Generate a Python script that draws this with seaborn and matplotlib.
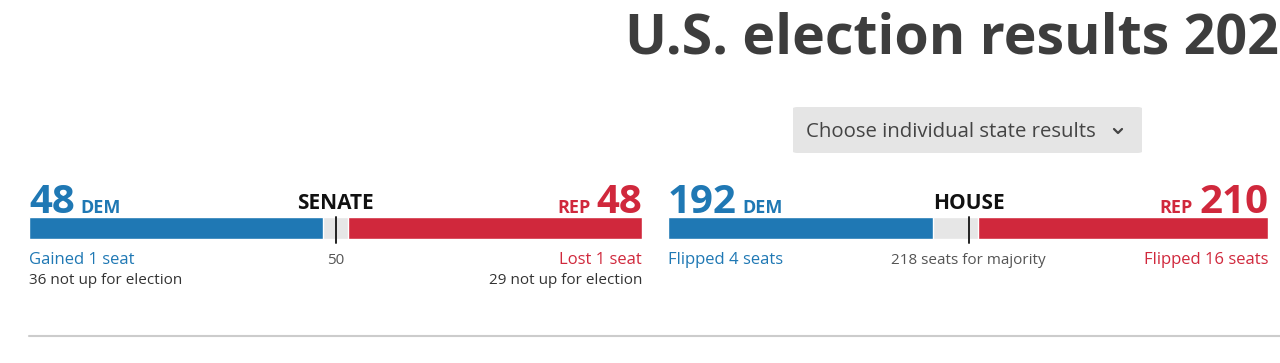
"""
Senate / House seat tally bars, 2022 U.S. midterms.

Output:
    out.png
"""

import matplotlib.pyplot as plt
import pandas as pd
import seaborn as sns
from matplotlib.patches import FancyBboxPatch
from matplotlib.transforms import blended_transform_factory


W, H = 1280, 363

BLUE = "#1f78b4"
RED = "#d0283c"
GREY_BAR = "#e6e6e6"
DARK = "#3d3d3d"
TEXT = "#333333"

chambers = ["SENATE", "HOUSE"]
total_seats = [100, 435]
dem_seats = [48, 192]
rep_seats = [48, 210]
majority = [50, 218]
majority_labels = ["50", "218 seats for majority"]
dem_notes = ["Gained 1 seat", "Flipped 4 seats"]
rep_notes = ["Lost 1 seat", "Flipped 16 seats"]
dem_sub_notes = ["36 not up for election", ""]
rep_sub_notes = ["29 not up for election", ""]

# pixel boxes (left, right) of each chamber bar
BAR_X = [(29, 642), (668, 1268)]
BAR_TOP, BAR_BOTTOM = 217, 239


def fy(y_px: float) -> float:
    return 1 - y_px / H


def setup_style() -> None:
    sns.set_theme(style="white")
    plt.rcParams["font.family"] = ["Open Sans", "DejaVu Sans"]


def draw_chamber(fig: plt.Figure, i: int) -> None:
    x0, x1 = BAR_X[i]
    ax = fig.add_axes([x0 / W, fy(BAR_BOTTOM), (x1 - x0) / W, (BAR_BOTTOM - BAR_TOP) / H])
    total = total_seats[i]
    row = pd.DataFrame({"chamber": [chambers[i]]})

    # layered bars: red spans everything, grey covers undecided, blue on top
    sns.barplot(data=row.assign(seats=total), x="seats", y="chamber", orient="h",
                color=RED, saturation=1, width=1, ax=ax)
    sns.barplot(data=row.assign(seats=total - rep_seats[i]), x="seats", y="chamber", orient="h",
                color=GREY_BAR, saturation=1, width=1, ax=ax)
    sns.barplot(data=row.assign(seats=dem_seats[i]), x="seats", y="chamber", orient="h",
                color=BLUE, saturation=1, width=1, ax=ax)
    ax.set_xlim(0, total)
    ax.set_ylim(0.5, -0.5)
    ax.axvline(majority[i], ymin=-0.18, ymax=1.0, color="#222222", lw=1.4, clip_on=False)
    ax.axis("off")

    tr = blended_transform_factory(ax.transData, fig.transFigure)

    # headline numbers
    t = ax.text(0, fy(213), str(dem_seats[i]), transform=tr, color=BLUE,
                fontsize=29, fontweight="bold", ha="left", va="baseline")
    fig.canvas.draw()
    bb = t.get_window_extent()
    fig.text((bb.x1 + 6) / W, fy(213), "DEM", color=BLUE, fontsize=13,
             fontweight="bold", ha="left", va="baseline")
    t = ax.text(total, fy(213), str(rep_seats[i]), transform=tr, color=RED,
                fontsize=29, fontweight="bold", ha="right", va="baseline")
    fig.canvas.draw()
    bb = t.get_window_extent()
    fig.text((bb.x0 - 6) / W, fy(213), "REP", color=RED, fontsize=13,
             fontweight="bold", ha="right", va="baseline")

    ax.text(majority[i], fy(209), chambers[i], transform=tr, color="#111111",
            fontsize=15, fontweight="bold", ha="center", va="baseline")

    # notes under the bar
    ax.text(0, fy(264), dem_notes[i], transform=tr, color=BLUE, fontsize=12,
            ha="left", va="baseline")
    ax.text(total, fy(264), rep_notes[i], transform=tr, color=RED, fontsize=12,
            ha="right", va="baseline")
    ax.text(majority[i], fy(264), majority_labels[i], transform=tr, color="#555555",
            fontsize=11, ha="center", va="baseline")
    ax.text(0, fy(284), dem_sub_notes[i], transform=tr, color=TEXT, fontsize=11,
            ha="left", va="baseline")
    ax.text(total, fy(284), rep_sub_notes[i], transform=tr, color=TEXT, fontsize=11,
            ha="right", va="baseline")


def main() -> None:
    setup_style()
    fig = plt.figure(figsize=(W / 100, H / 100), dpi=100)
    fig.patch.set_facecolor("white")

    # the page shows the headline cut at the right edge
    fig.text(1279 / W, fy(53), "U.S. election results 202", color=DARK,
             fontsize=40, fontweight="bold", ha="right", va="baseline")

    # dropdown button
    fig.patches.append(FancyBboxPatch(
        (793 / W, fy(153)), (1142 - 793) / W, 46 / H,
        boxstyle="round,pad=0,rounding_size=0.004", transform=fig.transFigure,
        facecolor="#e5e5e5", edgecolor="none"))
    fig.text(806 / W, fy(137), "Choose individual state results", color="#444444",
             fontsize=14.7, ha="left", va="baseline")
    fig.add_artist(plt.Line2D([1114 / W, 1118 / W, 1122 / W], [fy(129), fy(133), fy(129)],
                              color="#444444", lw=1.6, transform=fig.transFigure))

    for i in range(len(chambers)):
        draw_chamber(fig, i)

    fig.add_artist(plt.Line2D([29 / W, 1.0], [fy(336), fy(336)], color="#cccccc",
                              lw=1.5, transform=fig.transFigure))

    fig.savefig("out.png", dpi=100, facecolor="white")


if __name__ == "__main__":
    main()
